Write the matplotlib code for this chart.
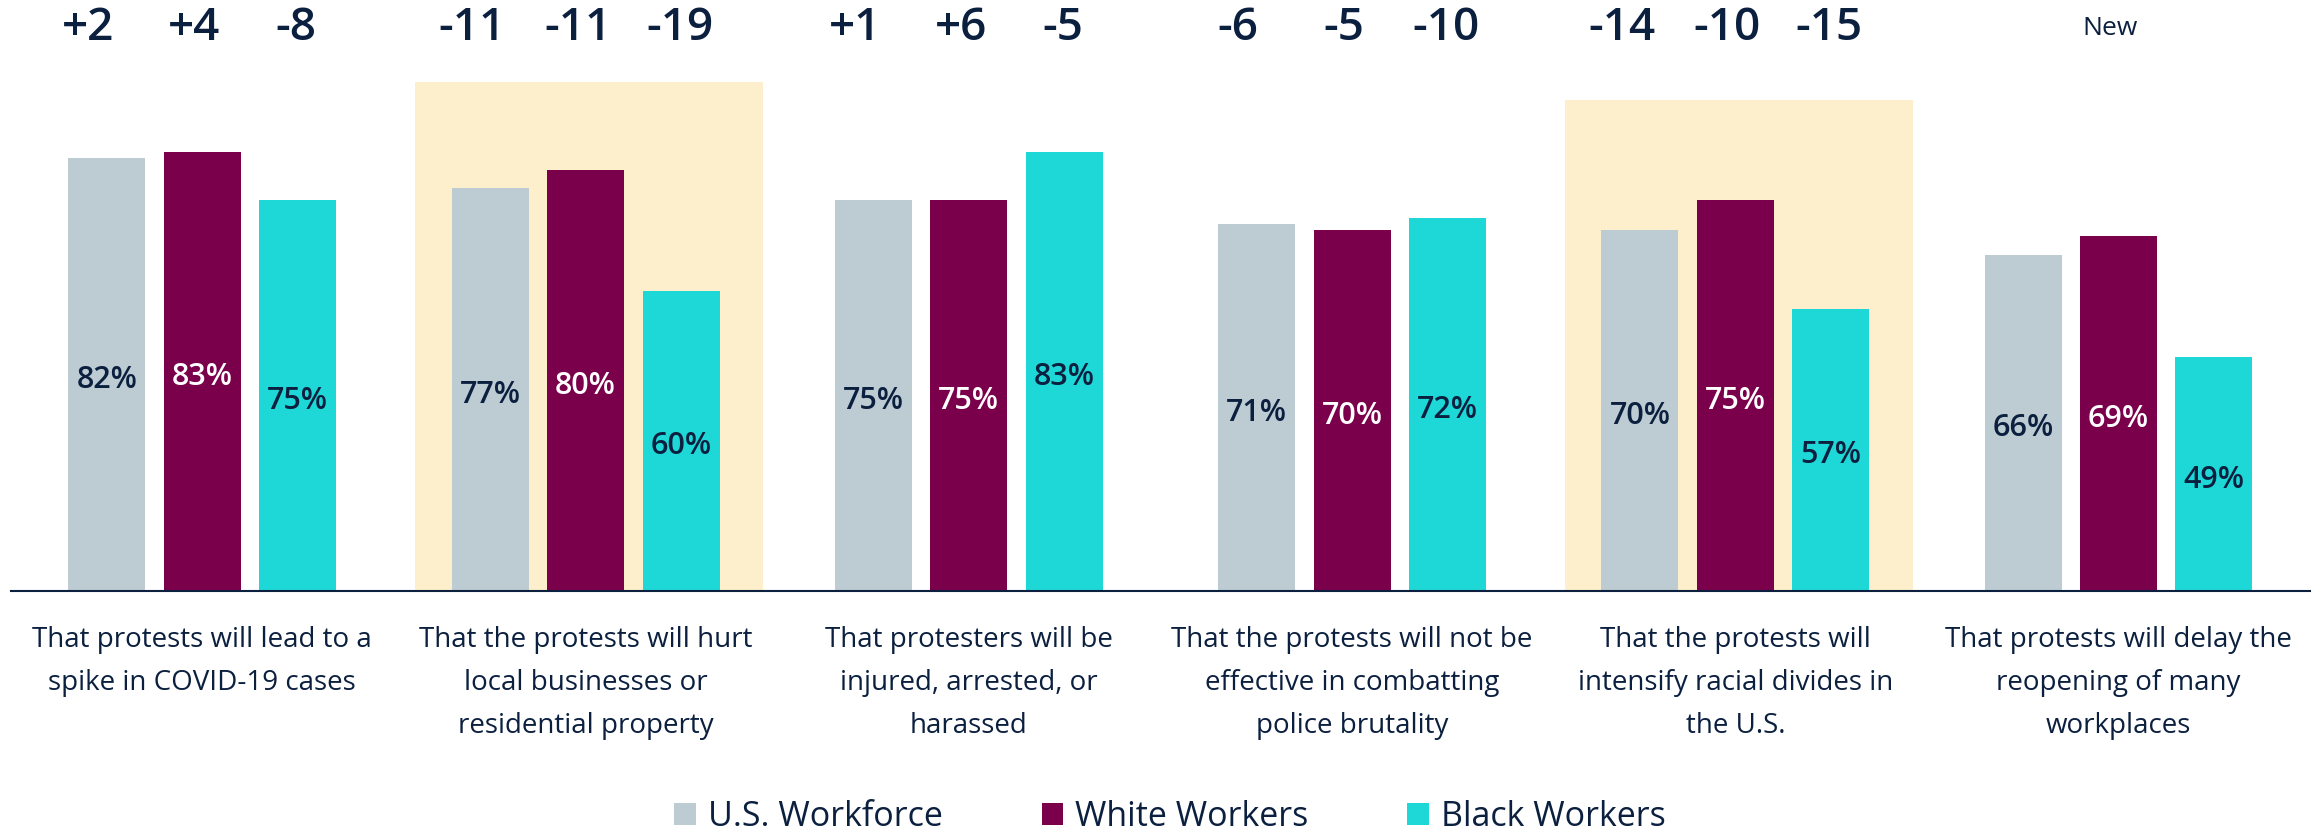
import matplotlib.pyplot as plt
import numpy as np

categories = [
    "That protests will lead to a\nspike in COVID-19 cases",
    "That the protests will hurt\nlocal businesses or\nresidential property",
    "That protesters will be\ninjured, arrested, or\nharassed",
    "That the protests will not be\neffective in combatting\npolice brutality",
    "That the protests will\nintensify racial divides in\nthe U.S.",
    "That protests will delay the\nreopening of many\nworkplaces",
]
series = ["U.S. Workforce", "White Workers", "Black Workers"]
us_workforce = [82, 77, 75, 71, 70, 66]
white_workers = [83, 80, 75, 70, 75, 69]
black_workers = [75, 60, 83, 72, 57, 49]
change_us = ["+2", "-11", "+1", "-6", "-14", None]
change_white = ["+4", "-11", "+6", "-5", "-10", "New"]
change_black = ["-8", "-19", "-5", "-10", "-15", None]
highlighted = [1, 4]

NAVY = "#0b1f3f"
colors = ["#bdcbd2", "#7a004b", "#1ed8d8"]
label_colors = [NAVY, "white", NAVY]
HIGHLIGHT = "#fdefcb"

plt.rcParams["font.family"] = ["Open Sans", "DejaVu Sans"]

fig = plt.figure(figsize=(23.14, 8.33), dpi=100)
ax = fig.add_axes([0, 0.2905, 1, 0.7095])
ybase = 10.3
ax.set_ylim(ybase, 108.15)
ax.set_xlim(-0.528, 5.51)

x = np.arange(len(categories))
width = 0.201
step = 0.249

# highlight boxes behind two groups
hl_tops = {1: 94.6, 4: 91.6}
for i in highlighted:
    ax.bar(x[i] + 0.01, hl_tops[i], width=0.908, bottom=0, color=HIGHLIGHT, zorder=0)

values = [us_workforce, white_workers, black_workers]
handles = []
for k, vals in enumerate(values):
    b = ax.bar(x + (k - 1) * step, vals, width=width, color=colors[k], label=series[k], zorder=2)
    handles.append(b)
    for xi, v in zip(x, vals):
        ax.text(xi + (k - 1) * step, (ybase + v) / 2 - 0.9, f"{v}%", ha="center", va="center",
                fontsize=22, fontweight="semibold", color=label_colors[k], zorder=3)

# change numbers above the groups
offsets = [-0.297, -0.021, 0.245]
for k, changes in enumerate([change_us, change_white, change_black]):
    for xi, c in zip(x, changes):
        if c is None:
            continue
        if c == "New":
            ax.text(xi + offsets[k], 103.5, c, ha="center", va="center", fontsize=19, color=NAVY)
        else:
            ax.text(xi + offsets[k], 103.4, c, ha="center", va="center", fontsize=33,
                    fontweight="semibold", color=NAVY)

ax.set_xticks(x)
ax.set_xticklabels(categories, fontsize=20, color=NAVY, linespacing=1.72)
ax.tick_params(axis="x", length=0, pad=25)
ax.set_yticks([])
for s in ["top", "left", "right"]:
    ax.spines[s].set_visible(False)
ax.spines["bottom"].set_color(NAVY)
ax.spines["bottom"].set_linewidth(1.5)
ax.spines["bottom"].set_bounds(-0.5, 5.5)
ax.set_facecolor("none")

fig.legend(handles, series, loc="center", bbox_to_anchor=(1170 / 2314, 16 / 833), ncol=3,
           frameon=False, fontsize=24.5, handlelength=0.64, handleheight=0.64,
           handletextpad=0.35, columnspacing=2.9, labelcolor=NAVY)

fig.savefig("out.png", dpi=100)
